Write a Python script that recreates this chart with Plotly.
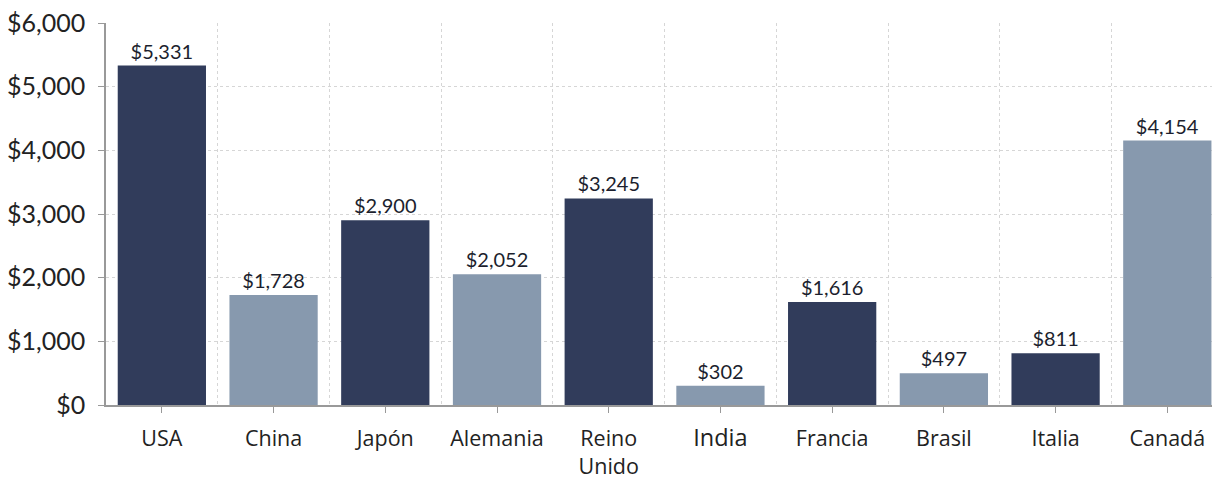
import plotly.graph_objects as go

# Country labels and values (USD)
countries = ["USA", "China", "Japón", "Alemania", "Reino<br>Unido",
             '<span style="font-size:23.5px">India</span>', "Francia",
             "Brasil", "Italia", "Canadá"]
values = [5331, 1728, 2900, 2052, 3245, 302, 1616, 497, 811, 4154]
bar_colors = ["#313c5b", "#8799ae", "#313c5b", "#8799ae", "#313c5b",
              "#8799ae", "#313c5b", "#8799ae", "#313c5b", "#8799ae"]
y_ticks = [0, 1000, 2000, 3000, 4000, 5000, 6000]
y_tick_text = ["$0", "$1,000", "$2,000", "$3,000", "$4,000", "$5,000", "$6,000"]

positions = list(range(len(values)))

fig = go.Figure(
    go.Bar(
        x=positions,
        y=values,
        marker=dict(color=bar_colors, line=dict(width=0)),
        width=0.79,
        text=[f"${v:,}" for v in values],
        textposition="outside",
        textfont=dict(family="Lato", size=20, color="#1c1f2e"),
        cliponaxis=False,
    )
)

fig.update_layout(
    width=1212,
    height=480,
    margin=dict(l=106, r=0, t=23, b=75),
    paper_bgcolor="white",
    plot_bgcolor="white",
    showlegend=False,
    font=dict(family="Lato", color="#222222"),
)

fig.update_xaxes(
    range=[-0.5, 9.40],
    tickvals=positions,
    ticktext=countries,
    tickfont=dict(family="Open Sans", size=21.5, color="#222222"),
    ticks="outside",
    ticklen=6,
    tickcolor="#999999",
    ticklabelstandoff=7,
    showgrid=False,
    minor=dict(tick0=0.5, dtick=1, showgrid=True, gridcolor="#d6d6d6",
               griddash="dot", gridwidth=1, ticks=""),
    showline=True,
    linecolor="#999999",
    linewidth=1.5,
    zeroline=False,
)

fig.update_yaxes(
    range=[0, 6000],
    tickvals=y_ticks,
    ticktext=y_tick_text,
    tickfont=dict(family="Lato", size=25, color="#222222"),
    ticks="outside",
    ticklen=6,
    tickcolor="#999999",
    ticklabelstandoff=8,
    showgrid=True,
    gridcolor="#d6d6d6",
    griddash="dot",
    gridwidth=1,
    showline=True,
    linecolor="#999999",
    linewidth=1.5,
    zeroline=False,
)

fig.write_html("out.html")
